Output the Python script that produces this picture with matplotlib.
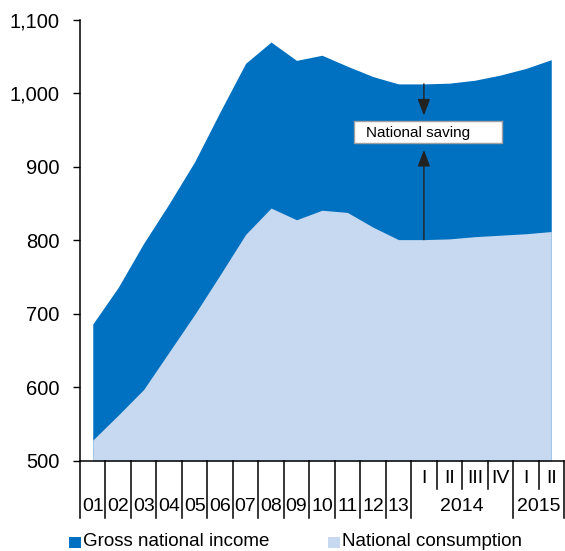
import matplotlib.pyplot as plt
from matplotlib.patches import Rectangle
from matplotlib.transforms import blended_transform_factory
from matplotlib.ticker import FuncFormatter

plt.rcParams['font.family'] = ['Liberation Sans', 'DejaVu Sans']

# periods: years 2001-2013, then quarters of 2014 and 2015
year_labels = ["01", "02", "03", "04", "05", "06", "07", "08", "09", "10", "11", "12", "13"]
quarter_labels = ["I", "II", "III", "IV", "I", "II"]
quarter_years = ["2014", "2015"]

gross_national_income = [686, 736, 796, 850, 907, 975, 1041, 1070, 1045, 1052, 1037, 1023, 1013,
                         1013, 1014, 1018, 1025, 1034, 1046]
national_consumption = [528, 562, 597, 648, 699, 753, 808, 844, 828, 841, 838, 818, 801,
                        801, 802, 805, 807, 809, 812]

c_dark = "#0070C0"
c_light = "#C6D9F0"

W, H = 565, 551
fig = plt.figure(figsize=(W / 100, H / 100), dpi=100)
ax = fig.add_axes([80 / W, 1 - 460.7 / H, 484 / W, 440.7 / H])

x = list(range(len(gross_national_income)))
ax.fill_between(x, 500, gross_national_income, color=c_dark, lw=0)
ax.fill_between(x, 500, national_consumption, color=c_light, lw=0)

ax.set_xlim(-0.5, len(x) - 0.5)
ax.set_ylim(500, 1100)
ax.set_yticks(range(500, 1101, 100))
ax.yaxis.set_major_formatter(FuncFormatter(lambda v, p: f"{int(v):,}"))
ax.tick_params(axis="y", direction="out", length=5, width=1, pad=10, labelsize=14.5)
ax.set_xticks([])
for s in ["top", "right"]:
    ax.spines[s].set_visible(False)
for s in ["left", "bottom"]:
    ax.spines[s].set_linewidth(1.1)

# category axis: separators and two rows of labels
tr = blended_transform_factory(ax.transData, ax.transAxes)
n_years = len(year_labels)
full_lines = [i - 0.5 for i in range(n_years + 1)] + [n_years + 3.5, n_years + 5.5]
short_lines = [n_years + 0.5, n_years + 1.5, n_years + 2.5, n_years + 4.5]
for xv in full_lines:
    ax.plot([xv, xv], [0, -0.13], transform=tr, color="black", lw=1.1, clip_on=False)
for xv in short_lines:
    ax.plot([xv, xv], [0, -0.064], transform=tr, color="black", lw=1.1, clip_on=False)

row1 = -0.040
row2 = -0.103
for i, lab in enumerate(year_labels):
    ax.text(i, row2, lab, transform=tr, ha="center", va="center", fontsize=14)
for j, lab in enumerate(quarter_labels):
    ax.text(n_years + j, row1, lab, transform=tr, ha="center", va="center", fontsize=14)
ax.text(n_years + 1.5, row2, quarter_years[0], transform=tr, ha="center", va="center", fontsize=14)
ax.text(n_years + 4.5, row2, quarter_years[1], transform=tr, ha="center", va="center", fontsize=14)

# national saving annotation
q = n_years
arrow = dict(arrowstyle="-|>,head_length=1.0,head_width=0.38", color="#222222", lw=1.0,
             shrinkA=0, shrinkB=0)
ax.annotate("", xy=(q, 970), xytext=(q, gross_national_income[q]), arrowprops=arrow)
ax.annotate("", xy=(q, 923), xytext=(q, national_consumption[q]), arrowprops=arrow)
ax.add_patch(Rectangle((10.26, 932.1), 5.8, 30.8, facecolor="white", edgecolor="#A0A0A0",
                       lw=1.0, zorder=5))
ax.text(10.73, 946, "National saving", ha="left", va="center", fontsize=11, zorder=6)

# legend
fig.add_artist(Rectangle((69 / W, 1 - 548 / H), 11.5 / W, 11.5 / H, transform=fig.transFigure,
                         facecolor=c_dark, lw=0))
fig.text(83 / W, 1 - 542 / H, "Gross national income", ha="left", va="center", fontsize=13.5)
fig.add_artist(Rectangle((328 / W, 1 - 548 / H), 11.5 / W, 11.5 / H, transform=fig.transFigure,
                         facecolor=c_light, lw=0))
fig.text(342 / W, 1 - 542 / H, "National consumption", ha="left", va="center", fontsize=13.5)

fig.savefig("out.png", dpi=100)
